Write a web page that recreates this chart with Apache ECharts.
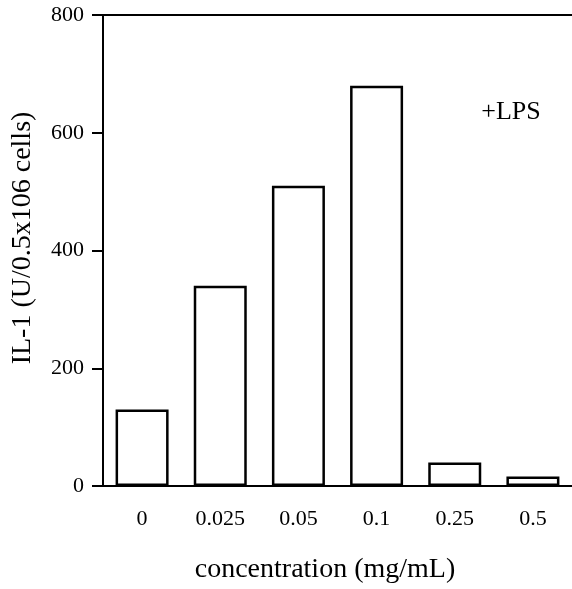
<!DOCTYPE html>
<html>
<head>
<meta charset="utf-8">
<script src="https://cdn.jsdelivr.net/npm/echarts@6/dist/echarts.min.js"></script>
<style>
    html, body { margin: 0; padding: 0; background: #fff; }
    #chart { width: 572px; height: 589px; }
</style>
</head>
<body>
<div id="chart"></div>
<script>
// concentrations (mg/mL) and IL-1 response with LPS
var concentrations = ['0', '0.025', '0.05', '0.1', '0.25', '0.5'];
var il1Values = [130, 340, 510, 680, 40, 16];
var yTicks = { min: 0, max: 800, interval: 200 };

var serif = '"Liberation Serif", "Times New Roman", serif';
var chart = echarts.init(document.getElementById('chart'));

var option = {
    animation: false,
    backgroundColor: '#fff',
    grid: {
        left: 103,
        right: -3,
        top: 15,
        bottom: 103
    },
    xAxis: [
        {
            type: 'category',
            data: concentrations,
            axisLine: { lineStyle: { color: '#000', width: 2 } },
            axisTick: { alignWithLabel: true, length: 12, lineStyle: { color: '#000', width: 2 } },
            axisLabel: { color: '#000', fontFamily: serif, fontSize: 22, margin: 22 }
        },
        {
            // top frame line
            type: 'category',
            position: 'top',
            data: concentrations,
            axisLine: { lineStyle: { color: '#000', width: 2 } },
            axisTick: { show: false },
            axisLabel: { show: false }
        }
    ],
    yAxis: {
        type: 'value',
        min: yTicks.min,
        max: yTicks.max,
        interval: yTicks.interval,
        axisLine: { show: true, lineStyle: { color: '#000', width: 2 } },
        axisTick: { show: true, length: 11, lineStyle: { color: '#000', width: 2 } },
        axisLabel: { color: '#000', fontFamily: serif, fontSize: 22, margin: 19 },
        splitLine: { show: false }
    },
    series: [
        {
            type: 'bar',
            data: il1Values,
            barWidth: 53,
            itemStyle: { color: '#fff', borderColor: '#000', borderWidth: 2.5 }
        }
    ],
    graphic: [
        {
            type: 'text',
            x: 325, y: 570,
            style: { text: 'concentration (mg/mL)', fill: '#000', font: '28px ' + serif, align: 'center', verticalAlign: 'middle' }
        },
        {
            type: 'text',
            x: 23, y: 238,
            rotation: Math.PI / 2,
            style: { text: 'IL-1 (U/0.5x106 cells)', fill: '#000', font: '28px ' + serif, align: 'center', verticalAlign: 'middle' }
        },
        {
            type: 'text',
            x: 511, y: 112,
            style: { text: '+LPS', fill: '#000', font: '26px ' + serif, align: 'center', verticalAlign: 'middle' }
        }
    ]
};
chart.setOption(option);
</script>
</body>
</html>
